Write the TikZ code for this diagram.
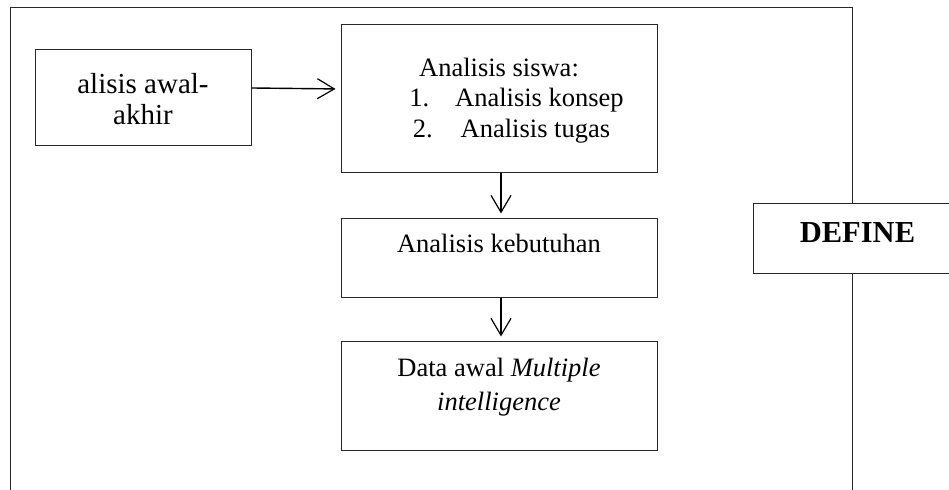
\documentclass[tikz,border=0pt]{standalone}
\usepackage{fontspec}
\setmainfont{Liberation Serif}
\usetikzlibrary{arrows, arrows.meta}
\usetikzlibrary{calc}

\tikzset{
  box/.style={draw=black!85, line width=0.5pt, inner sep=0pt, fill=white},
  txt/.style={align=center, inner sep=0pt, anchor=base, font={\fontsize{13.25}{15.25}\selectfont\lineskiplimit=-20pt\relax}},
  arr/.style={-{Straight Barb[length=8.5pt, width=10pt, line width=0.6pt]}, line width=0.7pt, shorten >=2.5pt}
}

\begin{document}
\begin{tikzpicture}[x=0.5pt, y=-0.5pt]
    \useasboundingbox (0,0) rectangle (949,490);

    % outer frame, open at the bottom
    \draw[black!85, line width=0.5pt] (10,490) -- (10,8) -- (852,8) -- (852,490);

    \node[box, minimum width=108pt, minimum height=48pt] (awal) at (143,98) {};
    \node[box, minimum width=158pt, minimum height=74pt] (siswa) at (499,99) {};
    \node[box, minimum width=158pt, minimum height=39.5pt] (keb) at (499,258.5) {};
    \node[box, minimum width=158pt, minimum height=54.5pt] (data) at (499,396.5) {};
    \node[box, minimum width=98pt, minimum height=35pt] (define) at (851,239) {};

    % texts, placed at the baseline of their last line
    \node[txt, font={\fontsize{14.5}{15.5}\selectfont\lineskiplimit=-20pt\relax}] (awaltext) at (143,125) {alisis awal-\\akhir};
    \node[txt] (siswatext) at (499,137.5) {Analisis siswa:\\
      \hspace*{17.5pt}1.\hspace{13pt}Analisis konsep\\
      \hspace*{12.5pt}2.\hspace{14pt}Analisis tugas};
    \node[txt] (kebtext) at (499,253) {Analisis kebutuhan};
    \node[txt, font=\fontsize{13.25}{17}\selectfont] (datatext) at (499,411) {Data awal \textit{Multiple}\\\textit{intelligence}};
    \node[txt, font=\fontsize{15.25}{17}\selectfont\bfseries] (definetext) at (857.5,243) {DEFINE};

    \draw[arr] ([yshift=5pt]awal.east) -- ([yshift=5pt]siswa.west);
    \draw[arr] ([xshift=1pt]siswa.south) -- ([xshift=1pt]keb.north);
    \draw[arr] ([xshift=1pt]keb.south) -- ([xshift=1pt]data.north);
\end{tikzpicture}
\end{document}
